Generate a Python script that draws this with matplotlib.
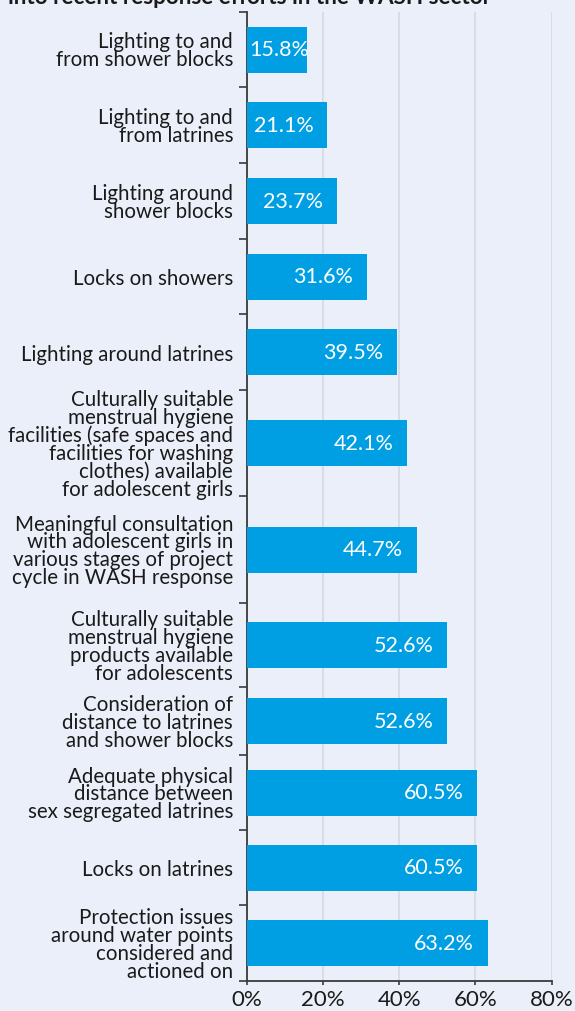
import numpy as np
import matplotlib.pyplot as plt

plt.rcParams['font.family'] = ['Lato', 'DejaVu Sans']

# Data
categories = [
    "Lighting to and\nfrom shower blocks",
    "Lighting to and\nfrom latrines",
    "Lighting around\nshower blocks",
    "Locks on showers",
    "Lighting around latrines",
    "Culturally suitable\nmenstrual hygiene\nfacilities (safe spaces and\nfacilities for washing\nclothes) available\nfor adolescent girls",
    "Meaningful consultation\nwith adolescent girls in\nvarious stages of project\ncycle in WASH response",
    "Culturally suitable\nmenstrual hygiene\nproducts available\nfor adolescents",
    "Consideration of\ndistance to latrines\nand shower blocks",
    "Adequate physical\ndistance between\nsex segregated latrines",
    "Locks on latrines",
    "Protection issues\naround water points\nconsidered and\nactioned on",
]
values = [15.8, 21.1, 23.7, 31.6, 39.5, 42.1, 44.7, 52.6, 52.6, 60.5, 60.5, 63.2]
xticks = [0, 20, 40, 60, 80]
title = "into recent response efforts in the WASH sector"

# layout: height of each category band (pixels), bar thickness
band_heights = [75, 76, 76, 75, 76, 106, 107, 84, 68, 75, 75, 76]
bar_thickness = 46

bg = '#ebeff9'
bar_color = '#009fe3'
axis_color = '#3a3a3a'

edges = np.concatenate([[0], np.cumsum(band_heights)])
centers = (edges[:-1] + edges[1:]) / 2

fig = plt.figure(figsize=(5.75, 10.12), dpi=100, facecolor=bg)
ax = fig.add_axes([247 / 575, 1 - 982 / 1012, (551.5 - 247) / 575, 969 / 1012])
ax.set_facecolor(bg)

ax.barh(centers, values, height=bar_thickness, color=bar_color, zorder=3)

for c, v in zip(centers, values):
    if v < 18:
        ax.annotate(f"{v}%", (0, c), xytext=(2, 0), textcoords='offset points',
                    ha='left', va='center', color='white', fontsize=15.5, zorder=4)
    else:
        ax.annotate(f"{v}%", (v, c), xytext=(-10, 0), textcoords='offset points',
                    ha='right', va='center', color='white', fontsize=15.5, zorder=4)

ax.set_xlim(0, 80)
ax.set_ylim(edges[-1], 0)
ax.set_xticks(xticks)
ax.set_xticklabels([f"{t}%" for t in xticks], fontsize=16)
ax.xaxis.grid(True, color='#d6d9e2', linewidth=1.2, zorder=0)

ax.set_yticks(centers)
ax.set_yticklabels(categories, fontsize=14.8, linespacing=0.87, color='#1a1a1a')
ax.set_yticks(edges, minor=True)
ax.tick_params(axis='y', which='major', length=0, pad=10)
ax.tick_params(axis='y', which='minor', length=5.5, width=1.2, color=axis_color)
ax.tick_params(axis='x', length=3, width=1.2, color=axis_color, pad=3, labelcolor='#1a1a1a')

for s in ['top', 'right']:
    ax.spines[s].set_visible(False)
for s in ['left', 'bottom']:
    ax.spines[s].set_color(axis_color)
    ax.spines[s].set_linewidth(1.3)

fig.text(8 / 575, 1 - 3.5 / 1012, title, fontsize=16.2, fontweight='bold',
         ha='left', va='baseline', color='#1a1a1a')

fig.savefig('out.png', dpi=100, facecolor=bg)
